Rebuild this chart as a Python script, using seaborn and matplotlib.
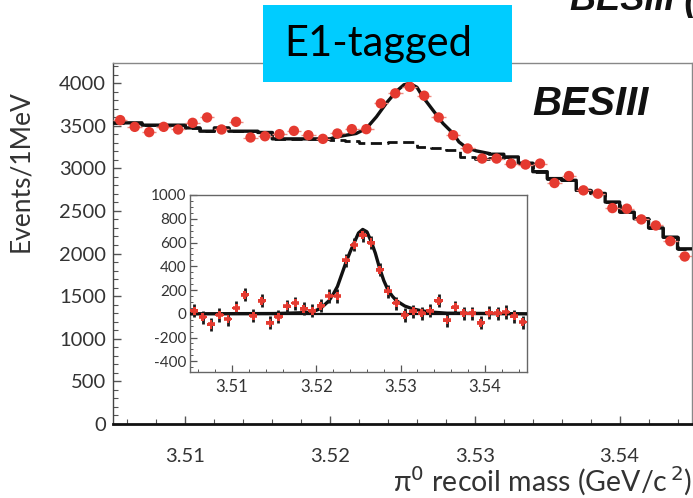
import numpy as np
import pandas as pd
import matplotlib
matplotlib.use("Agg")
import matplotlib.pyplot as plt
from matplotlib.ticker import MultipleLocator
import seaborn as sns

# ---------------- data ----------------
mass = [3.5055, 3.5065, 3.5075, 3.5085, 3.5095, 3.5105, 3.5115, 3.5125, 3.5135, 3.5145,
        3.5155, 3.5165, 3.5175, 3.5185, 3.5195, 3.5205, 3.5215, 3.5225, 3.5235, 3.5245,
        3.5255, 3.5265, 3.5275, 3.5285, 3.5295, 3.5305, 3.5315, 3.5325, 3.5335, 3.5345,
        3.5355, 3.5365, 3.5375, 3.5385, 3.5395, 3.5405, 3.5415, 3.5425, 3.5435, 3.5445]

events = [3565, 3486, 3424, 3486, 3455, 3533, 3596, 3455, 3545, 3361,
          3376, 3400, 3439, 3388, 3345, 3408, 3459, 3459, 3761, 3879,
          3956, 3851, 3596, 3388, 3232, 3114, 3114, 3055, 3044, 3055,
          2827, 2909, 2741, 2702, 2533, 2526, 2400, 2329, 2145, 1965]

# background fit (dashed), one value per 1 MeV bin
background = [3533, 3533, 3506, 3506, 3506, 3474, 3435, 3474, 3435, 3435,
              3420, 3345, 3345, 3345, 3345, 3335, 3320, 3300, 3295, 3305,
              3310, 3250, 3240, 3210, 3133, 3114, 3125, 3133, 3060, 2960,
              2879, 2859, 2741, 2705, 2604, 2486, 2408, 2300, 2192, 2055]

# total fit (solid): smooth part over the peak
peak_x = [3.5200, 3.5203, 3.5210, 3.5218, 3.5225, 3.5232, 3.5239, 3.5246, 3.5251,
          3.5255, 3.5260, 3.5264, 3.5271, 3.5278, 3.5285, 3.5289, 3.5294, 3.5301, 3.5310]
peak_y = [3345, 3361, 3385, 3408, 3467, 3604, 3768, 3906, 3980,
          3995, 3950, 3839, 3682, 3526, 3408, 3309, 3244, 3204, 3173]
# total fit (solid): stepped part to the right of the peak (bins 3.531 .. 3.545)
right_vals = [3165, 3133, 3060, 2960, 2879, 2859, 2741, 2705, 2604, 2486, 2408, 2300, 2192, 2055]

# inset: background-subtracted spectrum
signal = [25, -28, -90, -10, -45, 50, 160, -17, 110, -75,
          -25, 62, 90, 42, 25, 67, 150, 150, 450, 580,
          660, 600, 370, 190, 90, -10, 20, 5, 25, 110,
          -55, 55, 5, 5, -75, 10, 5, 15, -20, -70]
signal_fit_x = [3.505, 3.515, 3.518, 3.5195, 3.5205, 3.5215, 3.522, 3.5225, 3.523, 3.5235,
                3.524, 3.5245, 3.525, 3.5255, 3.526, 3.5265, 3.527, 3.5275, 3.528, 3.5285,
                3.529, 3.5295, 3.5305, 3.5315, 3.5325, 3.5335, 3.5355, 3.545]
signal_fit_y = [0, 2, 8, 15, 45, 110, 165, 230, 330, 430,
                520, 600, 680, 710, 690, 610, 510, 385, 280, 200,
                150, 110, 65, 40, 25, 15, 5, 0]

main_yticks = [0, 500, 1000, 1500, 2000, 2500, 3000, 3500, 4000]
inset_yticks = [-400, -200, 0, 200, 400, 600, 800, 1000]
xticks = [3.51, 3.52, 3.53, 3.54]

# ---------------- helpers ----------------
half = 0.0005
edges = [m - half for m in mass] + [mass[-1] + half]


def step_vertices(edge_list, vals):
    xs = np.repeat(edge_list, 2)[1:-1]
    ys = np.repeat(vals, 2)
    return xs, ys


# ---------------- figure ----------------
sns.set_theme(style="ticks")
plt.rcParams["font.family"] = ["Lato", "DejaVu Sans"]
plt.rcParams["mathtext.fontset"] = "dejavusans"

W, H = 693, 498
fig = plt.figure(figsize=(W / 100, H / 100), dpi=100)
fig.patch.set_facecolor("white")

red = "#e53a30"
txt = "#333333"

ax = fig.add_axes([113 / W, 1 - 424 / H, (692 - 113) / W, (424 - 63) / H])
ax.set_xlim(3.505, 3.545)
ax.set_ylim(0, 4235)

# background (dashed) stepped line
bx, by = step_vertices(edges, background)
bkg_df = pd.DataFrame({"x": bx, "y": by})
sns.lineplot(data=bkg_df, x="x", y="y", ax=ax, sort=False, estimator=None,
             color="#111111", lw=2.0, linestyle=(0, (4, 2)), zorder=3)

# total fit (solid): left steps + smooth peak + right steps
lx, ly = step_vertices(edges[:16], background[:15])
rx, ry = step_vertices(edges[26:], right_vals)
tot_df = pd.DataFrame({"x": np.concatenate([lx, peak_x, rx]),
                       "y": np.concatenate([ly, peak_y, ry])})
sns.lineplot(data=tot_df, x="x", y="y", ax=ax, sort=False, estimator=None,
             color="#111111", lw=2.4, zorder=4)

# data points
ax.errorbar(mass, events, xerr=half, yerr=45, fmt="none", ecolor="#ef8a80",
            elinewidth=1.0, zorder=5)
sns.scatterplot(x=mass, y=events, ax=ax, color=red, s=56, edgecolor="none", zorder=6)

ax.set_xticks(xticks)
ax.set_xticklabels([f"{t:.2f}" for t in xticks])
ax.set_yticks(main_yticks)
ax.set_yticklabels([str(t) for t in main_yticks])
ax.xaxis.set_minor_locator(MultipleLocator(0.002))
ax.yaxis.set_minor_locator(MultipleLocator(100))
ax.tick_params(axis="both", which="both", direction="in", top=False, right=False,
               colors="#555555", labelcolor=txt)
ax.tick_params(axis="both", which="major", length=6, width=1, labelsize=14.5)
ax.tick_params(axis="both", which="minor", length=3.5, width=0.8)
ax.tick_params(axis="x", which="major", pad=17)
ax.tick_params(axis="y", which="major", pad=5)
for s in ["top", "right"]:
    ax.spines[s].set_color("#888888")
    ax.spines[s].set_linewidth(1.0)
ax.spines["left"].set_color("#444444")
ax.spines["left"].set_linewidth(1.0)
ax.spines["bottom"].set_color("#111111")
ax.spines["bottom"].set_linewidth(2.0)
ax.set_xlabel("")
ax.set_ylabel("Events/1MeV", fontsize=19, color=txt)
ax.yaxis.set_label_coords(-0.138, 0.70)

ax.text(0.824, 0.886, "BESIII", transform=ax.transAxes, ha="center", va="center",
        fontsize=29, fontweight="heavy", fontstyle="italic", color="#111111",
        family=["Liberation Sans", "DejaVu Sans"])

fig.text(0.999, 1 - 481 / H, "π$^0$ recoil mass (GeV/c$^{\\,2}$)", ha="right", va="center",
         fontsize=20.5, color=txt)

# ---------------- inset ----------------
axi = fig.add_axes([190 / W, 1 - 372 / H, 337 / W, 177 / H])
axi.set_facecolor("white")
axi.set_xlim(3.505, 3.545)
axi.set_ylim(-490, 1000)
axi.axhline(0, color="#111111", lw=1.6, zorder=2)
fit_df = pd.DataFrame({"x": signal_fit_x, "y": signal_fit_y})
sns.lineplot(data=fit_df, x="x", y="y", ax=axi, sort=False, estimator=None,
             color="#111111", lw=2.4, zorder=3)
axi.errorbar(mass, signal, yerr=55, fmt="none", ecolor="#1a1a1a", elinewidth=2.0, zorder=4)
axi.errorbar(mass, signal, xerr=0.00042, fmt="none", ecolor=red, elinewidth=2.6, zorder=5)
sns.scatterplot(x=mass, y=signal, ax=axi, color=red, marker="P", s=34,
                edgecolor="none", zorder=6)
axi.set_xticks(xticks)
axi.set_xticklabels([f"{t:.2f}" for t in xticks])
axi.set_yticks(inset_yticks)
axi.set_yticklabels([str(t) for t in inset_yticks])
axi.xaxis.set_minor_locator(MultipleLocator(0.002))
axi.yaxis.set_minor_locator(MultipleLocator(50))
axi.tick_params(axis="both", which="both", direction="in", top=False, right=False,
                colors="#555555", labelcolor=txt)
axi.tick_params(axis="both", which="major", length=5, width=0.9)
axi.tick_params(axis="both", which="minor", length=2.5, width=0.7)
axi.tick_params(axis="x", which="major", labelsize=12, pad=5)
axi.tick_params(axis="y", which="major", labelsize=11, pad=2.5)
for s in axi.spines.values():
    s.set_color("#666666")
    s.set_linewidth(1.0)
axi.set_xlabel("")
axi.set_ylabel("")

# ---------------- annotations outside the axes ----------------
fig.patches.append(plt.Rectangle((263 / W, 1 - 82 / H), (512 - 263) / W, (82 - 5) / H,
                                 transform=fig.transFigure, facecolor="#00ccff",
                                 edgecolor="none", zorder=10))
fig.text(378 / W, 1 - 44 / H, "E1-tagged", ha="center", va="center", fontsize=30,
         color="black", zorder=11)
fig.text(570 / W, 1 - 10 / H, "BESIII (", ha="left", va="baseline", fontsize=26,
         fontweight="bold", fontstyle="italic", color="#111111",
         family=["Liberation Sans", "DejaVu Sans"])

fig.savefig("out.png", dpi=100, facecolor="white")
